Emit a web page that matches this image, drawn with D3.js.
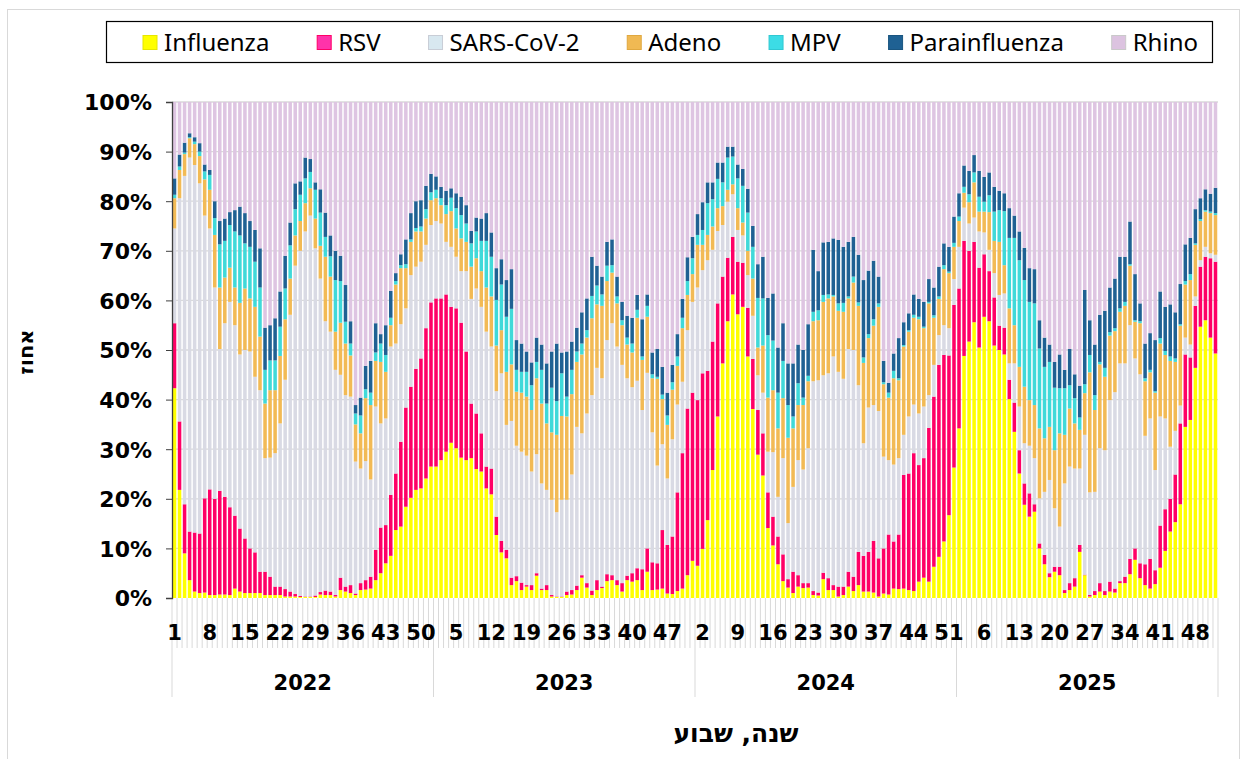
<!DOCTYPE html>
<html>
<head>
<meta charset="utf-8">
<script src="https://cdn.jsdelivr.net/npm/d3@7"></script>
<style>
  body { margin: 0; background: #fff; }
  svg { display: block; }
</style>
</head>
<body>
<div id="root"></div>
<script>
var width = 1247;
var height = 759;

// categories
var years = ["2022", "2023", "2024", "2025"];
var weeksPerYear = 52;
var weekTicks = [1, 8, 15, 22, 29, 36, 43, 50, 5, 12, 19, 26, 33, 40, 47,
  2, 9, 16, 23, 30, 37, 44, 51, 6, 13, 20, 27, 34, 41, 48];
var yTicks = [0, 0.1, 0.2, 0.3, 0.4, 0.5, 0.6, 0.7, 0.8, 0.9, 1];

// weekly share per virus (%)
var influenza = [
  42.3, 21.8, 9.0, 3.6, 1.3, 1.0, 1.1, 0.6, 0.6, 0.7, 0.7, 0.6, 1.9, 1.3, 1.0, 1.0, 1.0, 1.0, 0.6, 0.6, 0.6, 0.6, 0.3, 0.3, 0.3, 0.2,
  0.2, 0.2, 0.2, 0.7, 0.6, 0.6, 0.3, 1.6, 1.3, 1.0, 0.6, 1.6, 1.7, 1.9, 3.6, 5.0, 7.0, 8.5, 13.7, 14.4, 18.4, 20.2, 21.8, 22.1, 24.1, 26.5,
  26.5, 27.8, 29.5, 31.3, 30.2, 28.3, 27.8, 28.2, 26.0, 25.5, 22.1, 20.9, 12.7, 9.2, 8.0, 2.6, 3.4, 1.6, 2.3, 1.6, 4.5, 1.6, 1.6, 0.3, 0.2, 0.2,
  0.6, 0.7, 1.6, 4.1, 2.1, 0.6, 1.6, 2.0, 3.4, 3.6, 2.6, 1.3, 3.6, 3.3, 3.6, 1.6, 5.3, 1.6, 1.7, 1.9, 0.9, 0.8, 1.4, 1.9, 4.6, 7.5,
  6.5, 9.9, 15.7, 25.8, 36.6, 47.3, 55.8, 61.2, 57.2, 58.7, 48.7, 38.1, 28.9, 24.7, 14.1, 10.6, 6.8, 3.4, 2.1, 1.0, 2.3, 2.0, 2.1, 0.6, 0.5, 3.8,
  1.6, 1.6, 0.3, 0.6, 2.3, 1.4, 2.6, 1.3, 1.3, 1.1, 0.3, 0.9, 0.7, 1.9, 1.8, 1.9, 1.6, 1.4, 3.3, 4.1, 3.3, 6.3, 8.3, 11.4, 16.7, 26.3,
  34.2, 48.8, 51.7, 55.6, 50.5, 56.7, 55.8, 50.9, 50.0, 49.1, 40.1, 33.5, 25.1, 18.8, 16.4, 17.4, 10.0, 6.8, 4.2, 5.3, 4.6, 1.0, 1.6, 2.3, 9.3, 4.6,
  0.3, 0.6, 1.3, 0.6, 1.3, 1.1, 3.0, 3.0, 4.8, 7.7, 4.0, 2.6, 1.9, 2.8, 6.1, 9.5, 13.4, 15.3, 18.9, 34.5, 35.9, 46.4, 54.7, 56.0, 52.5, 49.3
];
var rsv = [
  13.1, 13.8, 9.9, 9.8, 11.9, 12.0, 19.0, 21.3, 19.4, 20.9, 19.7, 17.7, 14.7, 12.7, 11.0, 9.0, 8.2, 4.3, 4.7, 3.7, 1.7, 1.7, 1.5, 1.0, 0.5, 0.2,
  0.1, 0.1, 0.3, 0.5, 0.9, 0.7, 0.3, 2.5, 1.0, 1.6, 0.3, 1.4, 1.9, 2.4, 6.1, 9.2, 7.7, 12.3, 11.4, 17.1, 20.0, 22.4, 24.4, 26.2, 30.3, 33.1,
  33.9, 32.6, 31.7, 27.4, 28.2, 27.2, 21.9, 11.0, 11.2, 7.7, 4.4, 5.2, 3.7, 2.3, 1.7, 1.5, 1.0, 1.5, 0.3, 1.0, 0.5, 0.3, 1.0, 0.3, 0.1, 0.1,
  0.7, 0.9, 0.9, 0.5, 0.9, 0.9, 2.0, 0.3, 1.4, 1.0, 1.0, 1.7, 0.9, 1.7, 2.4, 4.2, 4.7, 5.6, 5.3, 11.8, 9.8, 11.6, 19.9, 27.3, 33.6, 33.9,
  33.4, 35.4, 30.1, 25.9, 22.8, 17.5, 12.8, 11.6, 10.6, 8.9, 9.8, 10.1, 9.0, 8.5, 7.2, 5.8, 5.6, 5.4, 1.7, 4.3, 2.3, 1.0, 0.9, 0.8, 0.6, 1.3,
  2.4, 1.0, 2.0, 1.7, 3.0, 2.9, 6.7, 7.2, 8.0, 10.4, 7.7, 9.1, 12.1, 9.5, 11.0, 22.9, 23.5, 27.8, 23.5, 24.1, 31.0, 34.3, 38.7, 37.6, 32.2, 32.8,
  28.2, 23.2, 18.3, 16.2, 16.1, 12.6, 10.1, 9.7, 4.9, 5.4, 3.9, 5.9, 4.7, 4.3, 4.7, 1.5, 1.0, 1.9, 0.8, 1.0, 1.7, 0.6, 1.4, 1.7, 1.4, 0.1,
  0.3, 0.8, 1.7, 0.8, 2.0, 0.8, 0.4, 1.3, 3.1, 2.3, 3.0, 4.2, 6.0, 2.8, 8.5, 8.4, 6.6, 9.6, 16.3, 14.6, 12.6, 12.5, 12.1, 12.8, 16.0, 18.5
];
var sarsCov2 = [
  19.1, 45.0, 66.2, 75.4, 74.1, 70.6, 57.0, 52.6, 42.6, 28.6, 35.0, 41.4, 38.4, 35.1, 38.0, 39.7, 35.4, 36.6, 22.9, 24.0, 26.9, 32.9, 42.2, 55.8, 66.2, 69.6,
  73.6, 76.8, 70.0, 63.2, 54.3, 52.4, 45.4, 40.9, 38.6, 38.0, 26.6, 23.1, 24.0, 19.6, 28.9, 21.0, 21.5, 29.9, 26.2, 23.7, 20.0, 22.5, 20.6, 19.5, 16.8, 15.6,
  15.6, 15.1, 10.6, 12.1, 10.4, 10.4, 16.2, 21.1, 25.2, 25.5, 27.2, 24.6, 25.3, 33.8, 25.2, 31.6, 26.3, 26.4, 26.1, 22.9, 24.0, 21.2, 19.2, 19.2, 17.0, 19.5,
  18.5, 23.3, 32.0, 28.6, 34.2, 39.4, 42.8, 42.0, 47.2, 50.8, 47.1, 44.0, 39.8, 37.5, 37.8, 32.1, 35.4, 26.2, 19.7, 17.3, 13.4, 19.6, 17.7, 14.4, 15.8, 18.3,
  22.7, 20.8, 22.3, 18.5, 14.6, 10.4, 11.3, 8.6, 6.4, 5.5, 6.6, 8.7, 7.0, 8.2, 8.2, 13.0, 8.0, 19.4, 11.3, 17.1, 23.2, 22.9, 27.2, 42.3, 42.8, 39.8,
  41.3, 46.1, 43.3, 41.9, 44.9, 45.7, 33.6, 22.7, 29.1, 27.4, 29.7, 18.5, 15.0, 15.5, 15.4, 8.1, 11.5, 9.8, 10.4, 10.4, 6.6, 6.4, 6.0, 6.0, 5.5, 5.2,
  8.4, 6.7, 5.5, 4.9, 7.3, 4.4, 4.3, 4.9, 6.2, 6.9, 3.3, 7.9, 8.8, 8.1, 9.6, 9.3, 9.1, 12.7, 18.8, 11.8, 8.1, 21.5, 23.5, 22.1, 15.4, 28.2,
  20.7, 20.0, 27.2, 28.4, 36.6, 39.6, 43.9, 43.0, 47.1, 38.3, 38.1, 25.9, 28.3, 20.2, 22.0, 18.3, 10.5, 8.8, 3.6, 3.4, 2.6, 1.9, 1.3, 2.0, 1.0, 1.4
];
var adeno = [
  6.1, 5.7, 4.4, 3.9, 4.2, 5.5, 7.3, 7.8, 10.6, 12.4, 9.2, 6.9, 7.6, 10.4, 12.4, 10.7, 14.1, 10.8, 11.0, 13.6, 12.7, 13.6, 12.2, 7.3, 6.1, 6.0,
  5.7, 5.5, 6.0, 6.6, 13.0, 11.1, 7.7, 10.5, 10.4, 8.3, 7.5, 7.1, 12.7, 15.0, 9.2, 12.4, 9.4, 4.3, 11.9, 11.3, 8.1, 6.7, 7.1, 6.1, 5.3, 5.0,
  4.6, 3.7, 5.6, 7.2, 5.7, 6.6, 5.9, 6.5, 6.1, 7.2, 8.9, 10.1, 9.2, 8.7, 10.7, 11.4, 10.9, 11.9, 11.9, 12.4, 15.3, 16.1, 13.4, 13.6, 15.6, 16.9,
  16.8, 16.2, 13.1, 15.9, 15.3, 15.5, 12.8, 14.6, 11.9, 10.2, 8.7, 8.0, 6.8, 7.0, 12.7, 10.1, 11.3, 10.9, 17.5, 9.1, 10.8, 10.0, 7.8, 10.8, 7.1, 5.6,
  8.6, 5.1, 5.1, 4.7, 4.6, 3.8, 2.4, 2.0, 4.4, 2.6, 4.9, 7.5, 5.6, 9.5, 10.9, 12.5, 13.8, 12.1, 17.2, 11.8, 11.1, 13.0, 13.5, 12.1, 12.1, 14.8,
  15.1, 12.1, 12.3, 13.5, 10.2, 13.6, 16.0, 16.2, 14.0, 16.0, 21.0, 14.6, 12.6, 17.4, 15.7, 17.8, 17.1, 17.5, 19.0, 15.8, 18.5, 9.5, 7.3, 11.3, 11.1, 6.5,
  5.2, 3.0, 4.3, 7.1, 4.0, 4.2, 7.6, 6.5, 10.7, 5.7, 11.1, 7.7, 8.0, 11.4, 9.2, 10.7, 14.1, 10.8, 10.7, 11.7, 18.8, 9.8, 11.7, 9.1, 7.8, 8.4,
  24.2, 16.5, 16.9, 14.8, 13.0, 12.3, 10.4, 11.6, 12.0, 7.4, 10.3, 11.0, 9.3, 15.6, 14.7, 12.8, 17.3, 13.9, 16.1, 10.7, 13.0, 10.4, 7.9, 7.1, 8.1, 8.0
];
var mpv = [
  0.7, 0.7, 0.3, 0.2, 0.5, 0.9, 1.6, 3.0, 3.4, 8.7, 7.4, 8.6, 11.3, 13.6, 9.1, 10.4, 9.1, 9.9, 6.8, 6.0, 6.0, 5.9, 6.2, 6.7, 5.3, 5.3,
  5.0, 3.3, 5.8, 6.7, 4.0, 4.1, 10.4, 8.4, 4.4, 2.4, 2.2, 3.6, 1.8, 2.5, 1.7, 3.7, 3.4, 1.5, 0.7, 0.6, 0.8, 0.5, 0.7, 1.0, 1.9, 1.6,
  1.7, 1.4, 1.8, 2.7, 4.1, 4.7, 3.7, 4.7, 5.4, 6.1, 9.4, 8.0, 9.2, 9.2, 11.1, 11.2, 4.4, 4.2, 5.0, 5.0, 3.3, 6.8, 4.0, 9.0, 6.8, 8.6,
  4.0, 4.9, 2.1, 2.2, 1.5, 4.5, 3.8, 2.3, 3.1, 1.5, 1.4, 1.0, 1.4, 1.8, 1.6, 0.7, 2.2, 0.8, 0.4, 0.9, 1.9, 1.5, 1.9, 2.1, 2.8, 3.2,
  2.0, 3.0, 6.4, 5.5, 5.9, 4.8, 6.5, 5.6, 6.0, 7.4, 7.7, 6.4, 10.0, 9.5, 12.6, 10.0, 7.2, 7.5, 6.6, 2.4, 4.4, 1.5, 1.1, 1.9, 2.0, 1.4,
  0.8, 0.3, 1.5, 1.8, 0.4, 1.2, 0.7, 1.1, 0.8, 1.3, 0.7, 0.4, 1.0, 1.5, 0.4, 0.3, 0.3, 0.6, 0.5, 0.3, 0.3, 0.5, 0.5, 0.8, 0.3, 0.8,
  0.9, 1.2, 1.6, 2.0, 3.0, 2.0, 3.4, 5.9, 6.4, 10.9, 14.2, 17.6, 21.5, 21.5, 19.8, 20.5, 16.1, 14.4, 13.1, 12.6, 9.1, 9.4, 4.7, 5.1, 2.5, 1.8,
  3.5, 3.0, 0.5, 1.8, 0.7, 0.6, 0.7, 0.8, 0.3, 0.3, 0.4, 0.6, 0.5, 0.3, 1.1, 0.8, 0.9, 0.7, 0.3, 0.7, 1.2, 0.3, 0.4, 0.3, 0.3, 0.4
];
var parainfluenza = [
  3.3, 2.4, 2.0, 0.8, 0.9, 1.7, 1.4, 1.0, 3.4, 4.7, 4.5, 2.6, 4.3, 5.8, 6.1, 5.2, 6.4, 7.9, 8.5, 7.1, 8.5, 7.1, 6.6, 4.6, 5.2, 2.7,
  4.2, 2.6, 1.5, 4.7, 4.9, 4.2, 5.9, 5.1, 7.4, 4.5, 1.7, 3.6, 4.7, 6.4, 5.9, 1.9, 6.0, 5.4, 1.6, 2.2, 5.0, 5.3, 5.4, 5.3, 4.7, 3.7,
  2.7, 2.3, 2.9, 1.9, 3.0, 3.7, 3.7, 2.5, 2.8, 4.5, 5.6, 4.9, 6.4, 5.1, 7.4, 8.0, 6.0, 5.7, 4.1, 4.6, 4.9, 5.1, 8.1, 7.3, 11.6, 4.2,
  9.1, 5.7, 4.8, 6.3, 6.4, 7.9, 4.0, 3.6, 4.8, 5.2, 4.0, 3.7, 4.4, 5.2, 3.0, 7.5, 2.3, 4.4, 5.6, 5.6, 4.6, 3.5, 4.5, 3.8, 4.8, 4.3,
  4.2, 5.6, 4.2, 3.4, 3.3, 4.0, 2.2, 2.0, 2.8, 3.4, 4.8, 4.2, 6.8, 8.4, 7.5, 9.5, 9.1, 7.6, 8.4, 10.7, 7.8, 9.6, 10.4, 12.5, 7.9, 10.6,
  10.6, 11.4, 12.8, 11.3, 11.0, 8.0, 9.6, 15.6, 12.8, 11.8, 5.4, 4.3, 2.0, 3.5, 8.1, 4.6, 3.4, 4.1, 3.6, 5.0, 4.6, 5.6, 6.0, 4.4, 5.0, 5.3,
  4.7, 4.3, 4.7, 3.5, 5.2, 5.0, 4.6, 5.0, 3.9, 3.6, 6.0, 4.5, 5.8, 6.5, 6.8, 6.9, 5.7, 5.9, 3.5, 5.2, 6.8, 3.7, 7.3, 4.8, 6.4, 19.0,
  7.0, 10.2, 9.5, 11.5, 9.0, 10.0, 10.4, 9.1, 8.6, 9.3, 3.6, 7.0, 7.4, 10.3, 9.4, 8.9, 10.5, 9.3, 8.1, 7.4, 7.3, 6.9, 4.2, 4.2, 3.6, 5.1
];
var rhino = [
  15.4, 10.6, 8.2, 6.3, 7.1, 8.3, 12.6, 13.7, 20.0, 24.0, 23.5, 22.2, 21.8, 21.1, 22.4, 24.0, 25.8, 29.5, 45.5, 45.0, 43.6, 38.2, 31.0, 24.3, 16.4, 16.0,
  11.2, 11.5, 16.2, 17.6, 22.3, 26.9, 30.0, 31.0, 36.9, 44.2, 61.1, 59.6, 53.2, 52.2, 44.6, 46.8, 45.0, 38.1, 34.5, 30.7, 27.7, 22.4, 20.0, 19.8, 16.9, 14.5,
  15.0, 17.1, 17.9, 17.4, 18.4, 19.1, 20.8, 26.0, 23.3, 23.5, 22.4, 26.3, 33.5, 31.7, 35.9, 33.7, 48.0, 48.7, 50.3, 52.5, 47.5, 48.9, 52.7, 50.3, 48.7, 50.5,
  50.3, 48.3, 45.5, 42.4, 39.6, 31.2, 33.0, 35.2, 28.2, 27.7, 35.2, 40.3, 43.1, 43.5, 38.9, 43.8, 38.8, 50.5, 49.8, 53.4, 58.6, 53.0, 46.8, 39.7, 31.3, 27.2,
  22.6, 20.2, 16.2, 16.2, 12.2, 12.2, 9.0, 9.0, 12.6, 13.5, 17.5, 25.0, 32.7, 31.2, 39.5, 38.6, 49.5, 44.6, 52.7, 52.7, 48.9, 50.0, 44.8, 29.8, 34.1, 28.3,
  28.2, 27.5, 27.8, 29.2, 28.2, 27.2, 30.8, 35.9, 34.0, 32.0, 35.2, 52.2, 56.6, 50.7, 47.6, 44.4, 42.6, 38.8, 39.7, 40.3, 35.7, 37.4, 33.2, 28.5, 29.2, 23.1,
  18.4, 12.8, 13.9, 10.7, 13.9, 15.1, 14.2, 17.1, 17.9, 18.4, 21.4, 22.9, 26.1, 29.4, 33.5, 33.7, 44.0, 47.5, 48.9, 52.4, 50.9, 54.0, 49.8, 54.9, 57.2, 37.9,
  44.0, 48.9, 42.9, 42.1, 37.4, 35.6, 31.2, 31.2, 24.1, 34.7, 40.6, 48.7, 46.6, 48.0, 38.2, 41.3, 40.8, 42.4, 36.7, 28.7, 27.4, 21.6, 19.4, 17.6, 18.5, 17.3
];

var seriesNames = ["Influenza", "RSV", "SARS-CoV-2", "Adeno", "MPV", "Parainfluenza", "Rhino"];
var seriesData = [influenza, rsv, sarsCov2, adeno, mpv, parainfluenza, rhino];
var barColors = ["#FFFF00", "#FF0066", "#D9DAE4", "#F2BA55", "#40D9D9", "#1F6193", "#DEC5E2"];
var swatchColors = ["#FFFF00", "#FF33AA", "#D8E8F0", "#F0B953", "#3CDCE6", "#1F6193", "#DCC3E0"];
var swatchStroke = ["#E6E600", "#FF0066", "#C8CDD6", "#E0A840", "#30C8D2", "#1A5580", "#C9C9C9"];

var font = "'DejaVu Sans', sans-serif";

var rows = influenza.map(function (v, i) {
  var r = { idx: i };
  seriesNames.forEach(function (name, k) {
    r[name] = seriesData[k][i] || 0;
  });
  return r;
});

var svg = d3
  .select("#root")
  .append("svg")
  .attr("width", width)
  .attr("height", height);

// outer chart frame
svg
  .append("rect")
  .attr("x", 7.5)
  .attr("y", 9.5)
  .attr("width", 1232)
  .attr("height", 770)
  .attr("fill", "#fff")
  .attr("stroke", "#D9D9D9");

var plotLeft = 172, plotRight = 1218, plotTop = 102, plotBottom = 598;

var xScale = d3
  .scaleBand()
  .domain(d3.range(rows.length))
  .range([plotLeft, plotRight])
  .paddingInner(0.3)
  .paddingOuter(0.15);

var yScale = d3.scaleLinear().domain([0, 1]).range([plotBottom, plotTop]);

// gridlines
svg
  .append("g")
  .selectAll("line")
  .data(yTicks.slice(1))
  .enter()
  .append("line")
  .attr("x1", plotLeft)
  .attr("x2", plotRight)
  .attr("y1", (d) => yScale(d))
  .attr("y2", (d) => yScale(d))
  .attr("stroke", "#D9D9D9")
  .attr("stroke-width", 1.3);

// stacked bars
var stacked = d3.stack().keys(seriesNames).offset(d3.stackOffsetExpand)(rows);

svg
  .append("g")
  .selectAll("g")
  .data(stacked)
  .enter()
  .append("g")
  .attr("fill", (d, i) => barColors[i])
  .selectAll("rect")
  .data((d) => d)
  .enter()
  .append("rect")
  .attr("x", (d) => xScale(d.data.idx))
  .attr("y", (d) => yScale(d[1]))
  .attr("height", (d) => Math.max(0, yScale(d[0]) - yScale(d[1])))
  .attr("width", xScale.bandwidth());

// category tick marks below the plot
var step = xScale.step();
var boundaries = d3.range(rows.length + 1).map((i) => plotLeft + i * step);

svg
  .append("g")
  .selectAll("line")
  .data(boundaries)
  .enter()
  .append("line")
  .attr("x1", (d) => d)
  .attr("x2", (d) => d)
  .attr("y1", plotBottom)
  .attr("y2", (d, i) => (i % weeksPerYear === 0 ? 697 : 648))
  .attr("stroke", "#D9D9D9")
  .attr("stroke-width", 1);

// y axis
var yAxis = d3
  .axisLeft(yScale)
  .tickValues(yTicks)
  .tickFormat(d3.format(".0%"))
  .tickSize(6)
  .tickPadding(14);

var yg = svg
  .append("g")
  .attr("transform", "translate(" + plotLeft + ",0)")
  .call(yAxis);
yg.select(".domain").attr("stroke", "#404040").attr("stroke-width", 1.3);
yg.selectAll(".tick line").attr("stroke", "#404040");
yg.selectAll(".tick text")
  .attr("font-family", font)
  .attr("font-weight", "bold")
  .attr("font-size", 22)
  .attr("fill", "#000")
  .attr("dy", "0.36em");

// week labels
svg
  .append("g")
  .selectAll("text")
  .data(weekTicks)
  .enter()
  .append("text")
  .attr("x", (d, i) => xScale(i * 7) + xScale.bandwidth() / 2)
  .attr("y", 640)
  .attr("text-anchor", "middle")
  .attr("font-family", font)
  .attr("font-weight", "bold")
  .attr("font-size", 21)
  .text((d) => d);

// year labels
svg
  .append("g")
  .selectAll("text")
  .data(years)
  .enter()
  .append("text")
  .attr("x", (d, i) => plotLeft + (i + 0.5) * weeksPerYear * step)
  .attr("y", 690)
  .attr("text-anchor", "middle")
  .attr("font-family", font)
  .attr("font-weight", "bold")
  .attr("font-size", 21)
  .text((d) => d);

// axis titles
svg
  .append("text")
  .attr("x", 736)
  .attr("y", 742)
  .attr("text-anchor", "middle")
  .attr("font-family", font)
  .attr("font-weight", "bold")
  .attr("font-size", 25)
  .text("שנה, שבוע");

svg
  .append("text")
  .attr("transform", "translate(33,352) rotate(-90)")
  .attr("text-anchor", "middle")
  .attr("font-family", font)
  .attr("font-weight", "bold")
  .attr("font-size", 21)
  .text("אחוז");

// legend
var legend = svg.append("g").attr("id", "legend");
legend
  .append("rect")
  .attr("x", 106.5)
  .attr("y", 21.5)
  .attr("width", 1106)
  .attr("height", 41)
  .attr("fill", "#fff")
  .attr("stroke", "#000")
  .attr("stroke-width", 1.2);

var items = legend
  .selectAll(".legend-item")
  .data(seriesNames)
  .enter()
  .append("g")
  .attr("class", "legend-item");

items
  .append("rect")
  .attr("width", 14)
  .attr("height", 14)
  .attr("y", 35.5)
  .attr("fill", (d, i) => swatchColors[i])
  .attr("stroke", (d, i) => swatchStroke[i]);

items
  .append("text")
  .attr("x", 21)
  .attr("y", 50.5)
  .attr("font-family", "'Noto Sans', sans-serif")
  .attr("font-size", 24)
  .text((d) => d);

// spread legend items between 143 and 1198
var widths = [];
items.select("text").each(function () {
  widths.push(21 + this.getComputedTextLength());
});
var gap = (1198 - 143 - d3.sum(widths)) / (widths.length - 1);
var cx = 143;
items.attr("transform", function (d, i) {
  var t = "translate(" + cx + ",0)";
  cx += widths[i] + gap;
  return t;
});
</script>
</body>
</html>
